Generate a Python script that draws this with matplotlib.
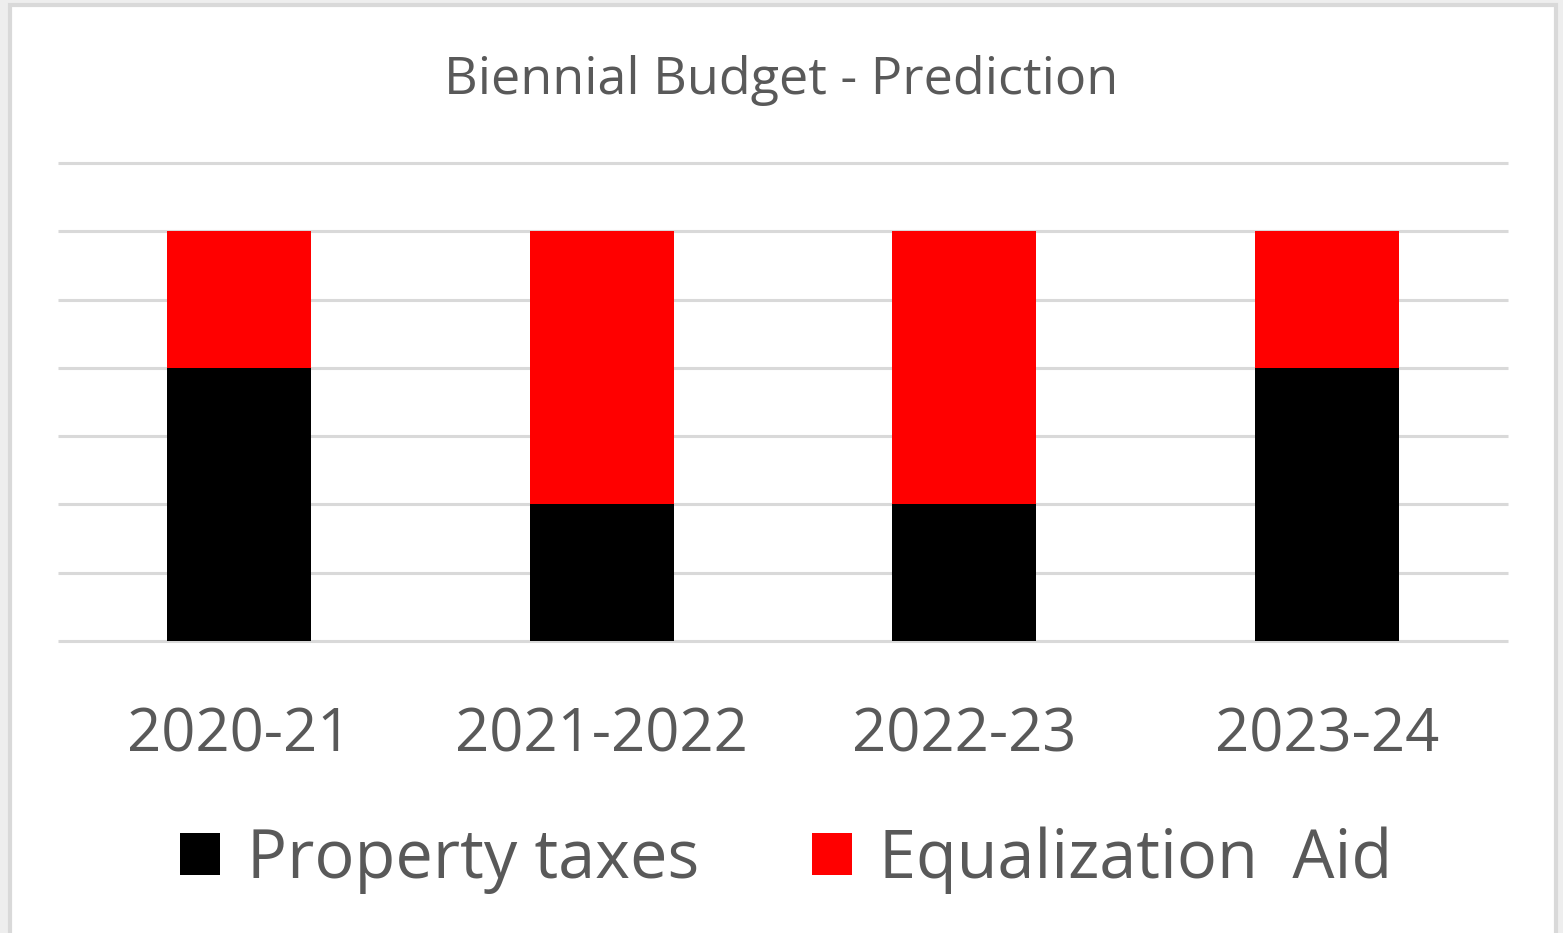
import numpy as np
import matplotlib.pyplot as plt
from matplotlib.patches import Rectangle

years = ["2020-21", "2021-2022", "2022-23", "2023-24"]
property_taxes = [4, 2, 2, 4]
equalization_aid = [2, 4, 4, 2]

plt.rcParams['font.family'] = ['Open Sans', 'DejaVu Sans']
txt = '#595959'

fig = plt.figure(figsize=(15.63, 9.33), dpi=100)
fig.patch.set_facecolor('#eeeeee')
# white chart panel with a soft grey frame
fig.patches.append(Rectangle((10/1563, -0.1), 1546/1563, 1.1 - 5/933, transform=fig.transFigure,
                             facecolor='white', edgecolor='#d9d9d9', linewidth=3, zorder=-1))

ax = fig.add_axes([58/1563, 292/933, 1450/1563, 478/933])
ax.set_zorder(1)
ax.set_facecolor('none')
x = np.arange(len(years))
ax.bar(x, property_taxes, width=0.397, color='black', label='Property taxes', zorder=3)
ax.bar(x, equalization_aid, width=0.397, bottom=property_taxes, color='#ff0000',
       label='Equalization  Aid', zorder=3)

ax.set_xlim(-0.5, 3.5)
ax.set_ylim(0, 7)
ax.set_yticks(range(8))
ax.yaxis.grid(True, color='#d9d9d9', linewidth=2.2, zorder=0)
ax.set_axisbelow(True)
for gl in ax.get_ygridlines():
    gl.set_clip_on(False)
    gl.set_solid_capstyle('butt')
ax.tick_params(axis='y', left=False, labelleft=False)
ax.tick_params(axis='x', bottom=False, labelsize=43, labelcolor=txt, pad=43)
ax.set_xticks(x)
ax.set_xticklabels(years)
for s in ax.spines.values():
    s.set_visible(False)

fig.text(0.5, 1 - 81/933, "Biennial Budget - Prediction", ha='center', va='center',
         fontsize=37.5, color=txt)

leg = fig.legend(loc='center', bbox_to_anchor=(786/1563, 1 - 860/933), ncol=2, frameon=False,
                 fontsize=48, handlelength=0.6, handleheight=0.6, handletextpad=0.4,
                 columnspacing=1.7)
for t in leg.get_texts():
    t.set_color(txt)

fig.savefig('out.png', dpi=100, facecolor=fig.get_facecolor())
